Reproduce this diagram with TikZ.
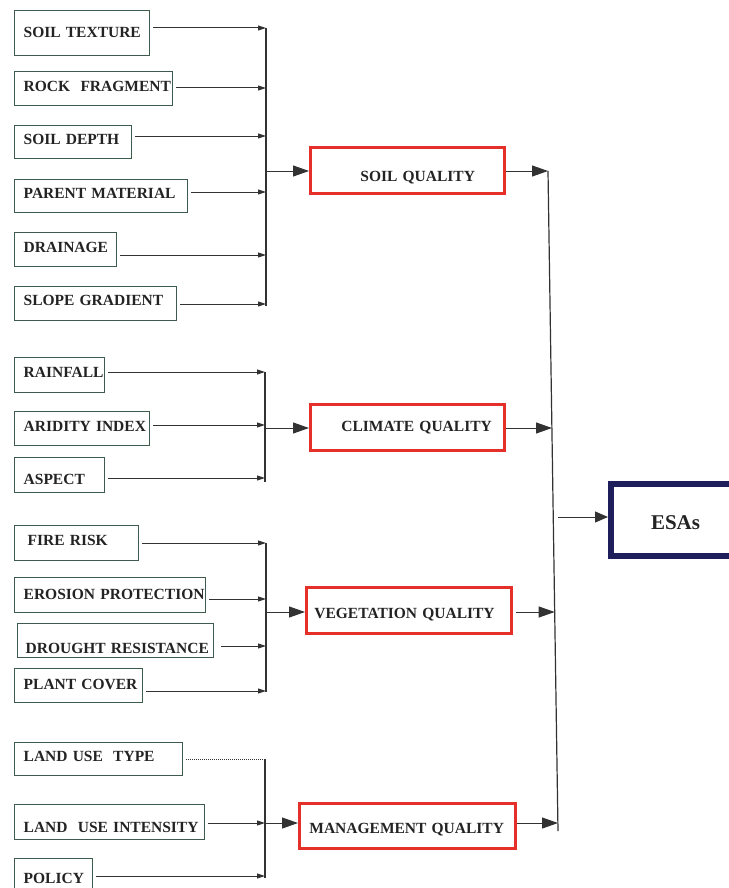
\documentclass[tikz,border=0pt]{standalone}
\usepackage{fontspec}
\setmainfont{Liberation Serif}
\usetikzlibrary{arrows.meta}

\definecolor{inedge}{RGB}{62,92,78}
\definecolor{qedge}{RGB}{228,48,40}
\definecolor{esaedge}{RGB}{30,30,92}
\definecolor{wire}{RGB}{50,50,50}
\definecolor{ink}{RGB}{35,35,35}

\tikzset{
  boxbase/.style={rectangle, anchor=north west, inner sep=0pt, align=left,
    text=ink, font=\fontsize{15.5}{18}\selectfont\bfseries},
  inbox/.style={draw=inedge, line width=1.4pt},
  qbox/.style={draw=qedge, line width=2.8pt},
  esabox/.style={draw=esaedge, line width=6pt,
    font=\fontsize{21}{24}\selectfont\bfseries},
  feed/.style={draw=wire, line width=1pt, shorten <=3pt,
    -{Triangle[length=8pt,width=5pt]}},
  merge/.style={draw=wire, line width=1pt,
    -{Triangle[length=16pt,width=11pt]}},
  bus/.style={draw=wire, line width=1.2pt},
  faint/.style={draw=wire, line width=0.8pt, dash pattern=on 1pt off 1pt,
    shorten <=3pt},
}

% box: [style]{name}{left}{top}{right}{bottom}{baseline}{text inset}{text}
\newcommand{\boxnode}[9][inbox]{%
  \pgfmathsetmacro{\bxw}{#5-#3}%
  \pgfmathsetmacro{\bxh}{#7-#4}%
  \pgfmathsetmacro{\bxd}{#6-#7}%
  \node[boxbase,#1,minimum width=\bxw pt,text width=\bxw pt,
        text height=\bxh pt,text depth=\bxd pt] (#2) at (#3,#4) {\hspace*{#8pt}#9};%
}

\begin{document}
\begin{tikzpicture}[x=1pt,y=-1pt]
\useasboundingbox (0,0) rectangle (728,888);

% ---- soil inputs
\boxnode{st}{14}{10}{149}{55}{37}{9}{SOIL TEXTURE}
\boxnode{rf}{14}{71}{172}{105}{91}{9}{ROCK\ \ FRAGMENT}
\boxnode{sd}{14}{125}{131}{158}{144}{9}{SOIL DEPTH}
\boxnode{pm}{14}{179}{187}{212}{198}{9}{PARENT MATERIAL}
\boxnode{dr}{14}{232}{116}{266}{252}{9}{DRAINAGE}
\boxnode{sg}{14}{286}{176}{320}{305}{9}{SLOPE GRADIENT}

% ---- climate inputs
\boxnode{rain}{14}{357}{104}{392}{377}{9}{RAINFALL}
\boxnode{ai}{14}{411}{149}{445}{431}{9}{ARIDITY INDEX}
\boxnode{asp}{14}{457}{104}{492}{484}{9}{ASPECT}

% ---- vegetation inputs
\boxnode{fr}{14}{525}{138}{560}{545}{13}{FIRE RISK}
\boxnode{ep}{14}{577}{205}{612}{599}{9}{EROSION PROTECTION}
\boxnode{drs}{17}{623}{213}{657}{653}{8}{DROUGHT RESISTANCE}
\boxnode{pc}{14}{668}{142}{702}{689}{9}{PLANT COVER}

% ---- management inputs
\boxnode{lut}{14}{742}{182}{775}{761}{9}{LAND USE\ \ TYPE}
\boxnode{lui}{14}{804}{204}{839}{832}{9}{LAND\ \ USE INTENSITY}
\boxnode{pol}{14}{858}{92}{900}{883}{9}{POLICY}

% ---- quality indices
\boxnode[qbox]{sq}{309}{146}{503}{192}{180}{50}{SOIL QUALITY}
\boxnode[qbox]{cq}{309}{403}{503}{449}{430}{31}{CLIMATE QUALITY}
\boxnode[qbox]{vq}{305}{586}{510}{632}{617}{8}{VEGETATION QUALITY}
\boxnode[qbox]{mq}{298}{802}{514}{847}{832}{10}{MANAGEMENT QUALITY}

% ---- result
\boxnode[esabox]{esa}{608}{481}{745}{553}{526}{40}{ESAs}

% ---- collector points
\coordinate (s1) at (266,28);  \coordinate (s2) at (266,88);
\coordinate (s3) at (266,136); \coordinate (s4) at (266,192);
\coordinate (s5) at (266,255); \coordinate (s6) at (266,304);
\coordinate (sj) at (266,171);

\coordinate (c1) at (265,372); \coordinate (c2) at (265,425);
\coordinate (c3) at (265,478); \coordinate (cj) at (265,428);

\coordinate (v1) at (266,543); \coordinate (v2) at (266,599);
\coordinate (v3) at (266,646); \coordinate (v4) at (266,691);
\coordinate (vj) at (266,612);

\coordinate (m1) at (265,759); \coordinate (m2) at (265,823);
\coordinate (m3) at (265,876);

\coordinate (r1) at (548,171);   \coordinate (r2) at (552,428);
\coordinate (re) at (553.2,517); \coordinate (r3) at (554.7,612);
\coordinate (r4) at (558,823);   \coordinate (r5) at (558,831);

% ---- vertical collectors
\draw[bus] (s1) -- ([yshift=-2pt]s6);
\draw[bus] (c1) -- ([yshift=-4pt]c3);
\draw[bus] (v1) -- ([yshift=-1pt]v4);
\draw[bus] (m1) -- ([yshift=-2pt]m3);
\draw[bus] (r1) -- (r5);

% ---- input feeds
\draw[feed] (st.east |- s1) -- (s1);
\draw[feed] (rf.east |- s2) -- (s2);
\draw[feed] (sd.east |- s3) -- (s3);
\draw[feed] (pm.east |- s4) -- (s4);
\draw[feed] (dr.east |- s5) -- (s5);
\draw[feed] (sg.east |- s6) -- (s6);

\draw[feed] (rain.east |- c1) -- (c1);
\draw[feed] (ai.east |- c2) -- (c2);
\draw[feed] (asp.east |- c3) -- (c3);

\draw[feed] (fr.east |- v1) -- (v1);
\draw[feed] (ep.east |- v2) -- (v2);
\draw[feed, shorten <=7pt] (drs.east |- v3) -- (v3);
\draw[feed] (pc.east |- v4) -- (v4);

\draw[faint] (lut.east |- m1) -- (m1);
\draw[feed] (lui.east |- m2) -- (m2);
\draw[feed] (pol.east |- m3) -- (m3);

% ---- collectors into quality indices
\draw[merge] (sj) -- (sq.west |- sj);
\draw[merge] (cj) -- (cq.west |- cj);
\draw[merge] (vj) -- (vq.west |- vj);
\draw[merge] (m2) -- (mq.west |- m2);

% ---- quality indices into the right collector
\draw[merge] (sq.east |- r1) -- (r1);
\draw[merge] (cq.east |- r2) -- (r2);
\draw[merge, shorten <=3pt] (vq.east |- r3) -- (r3);
\draw[merge] (mq.east |- r4) -- (r4);

% ---- right collector into ESAs
\draw[draw=wire, line width=1pt, shorten <=5pt,
      -{Triangle[length=13pt,width=11pt]}] (re) -- (esa.west |- re);
\end{tikzpicture}
\end{document}
